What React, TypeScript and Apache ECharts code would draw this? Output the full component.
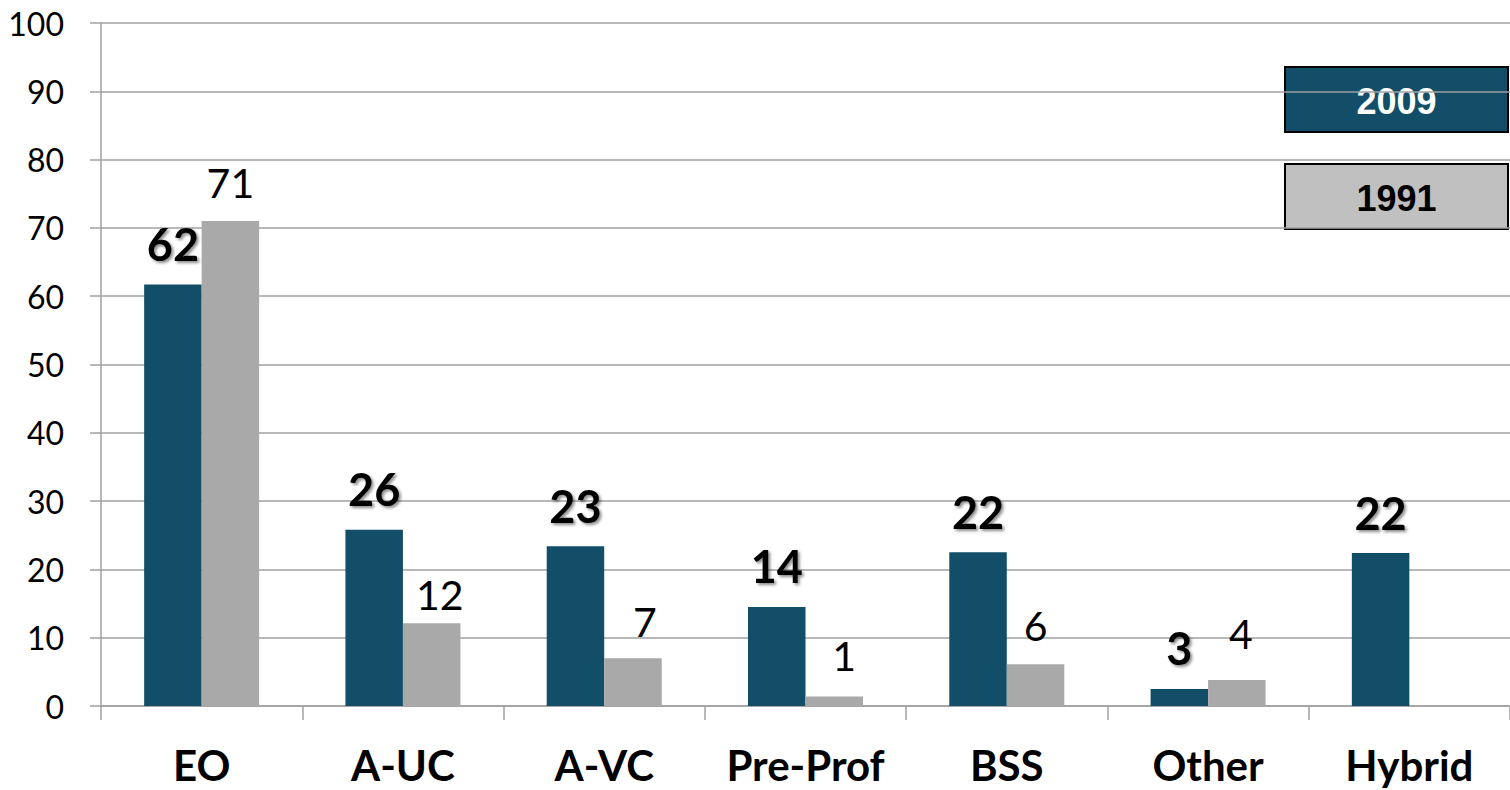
import React, { useEffect, useRef } from "react";
import * as echarts from "echarts";

const categories = ["EO", "A-UC", "A-VC", "Pre-Prof", "BSS", "Other", "Hybrid"];
const values2009 = [61.7, 25.8, 23.4, 14.5, 22.5, 2.5, 22.4];
const labels2009 = ["62", "26", "23", "14", "22", "3", "22"];
const values1991: (number | null)[] = [71.0, 12.1, 7.0, 1.4, 6.1, 3.8, null];
const labels1991 = ["71", "12", "7", "1", "6", "4", ""];
const labelDist1991 = [18, 8, 16, 20, 18, 26, 0];
const labelDx1991 = [0, 8, 12, 10, 0, 4, 0];
const yTicks = { min: 0, max: 100, interval: 10 };
const seriesNames = ["2009", "1991"];

const C2009 = "#124e68";
const C1991 = "#a9a9a9";
const LABEL_FONT = "Lato, 'Open Sans', sans-serif";

export default function App() {
  const ref = useRef<HTMLDivElement>(null);
  useEffect(() => {
    if (!ref.current) return;
    const chart = echarts.init(ref.current, undefined, { renderer: "svg" });
    chart.setOption({
      animation: false,
      backgroundColor: "#ffffff",
      grid: { left: 101, top: 23, bottom: 84, width: 1414, containLabel: false },
      xAxis: {
        type: "category",
        data: categories,
        axisLine: { show: true, lineStyle: { color: "#a0a0a0", width: 1.5 } },
        axisTick: { show: true, interval: 0, length: 14, lineStyle: { color: "#a0a0a0", width: 1.5 } },
        axisLabel: {
          interval: 0,
          hideOverlap: false,
          fontSize: 42,
          fontWeight: "bold",
          color: "#000",
          fontFamily: LABEL_FONT,
          margin: 38,
        },
      },
      yAxis: {
        type: "value",
        min: yTicks.min,
        max: yTicks.max,
        interval: yTicks.interval,
        axisLine: { show: true, lineStyle: { color: "#a0a0a0", width: 1.5 } },
        axisTick: { show: true, length: 11, lineStyle: { color: "#a0a0a0", width: 1.5 } },
        splitLine: { show: true, lineStyle: { color: "#a0a0a0", width: 1.5 } },
        axisLabel: {
          fontSize: 32,
          color: "#000",
          fontFamily: LABEL_FONT,
          margin: 37,
        },
      },
      series: [
        {
          name: seriesNames[0],
          type: "bar",
          barWidth: 57.5,
          barGap: "0%",
          itemStyle: { color: C2009 },
          data: values2009.map((v, i) => ({
            value: v,
            label: { formatter: labels2009[i] },
          })),
          label: {
            show: true,
            position: "top",
            distance: 18,
            fontSize: 45,
            fontWeight: "bold",
            color: "#000",
            fontFamily: LABEL_FONT,
            textShadowColor: "rgba(0,0,0,0.45)",
            textShadowBlur: 3,
            textShadowOffsetX: 2,
            textShadowOffsetY: 2,
          },
        },
        {
          name: seriesNames[1],
          type: "bar",
          barWidth: 57.5,
          barGap: "0%",
          itemStyle: { color: C1991 },
          data: values1991.map((v, i) => ({
            value: v === null ? "-" : v,
            label: {
              formatter: labels1991[i],
              distance: labelDist1991[i],
              offset: [labelDx1991[i], 0],
            },
          })),
          label: {
            show: true,
            position: "top",
            fontSize: 41,
            color: "#000",
            fontFamily: LABEL_FONT,
          },
        },
      ],
      graphic: [
        {
          type: "group",
          left: 1284,
          top: 66,
          children: [
            {
              type: "rect",
              shape: { x: 0, y: 0, width: 223, height: 65 },
              style: { fill: C2009, stroke: "#000", lineWidth: 2 },
            },
            {
              type: "text",
              x: 111.5,
              y: 34,
              style: {
                text: seriesNames[0],
                fill: "#fff",
                font: "bold 36px 'Liberation Sans', Arial, sans-serif",
                textAlign: "center",
                textVerticalAlign: "middle",
              },
            },
          ],
        },
        {
          type: "group",
          left: 1284,
          top: 163,
          children: [
            {
              type: "rect",
              shape: { x: 0, y: 0, width: 223, height: 65 },
              style: { fill: "#c0c0c0", stroke: "#000", lineWidth: 2 },
            },
            {
              type: "text",
              x: 111.5,
              y: 34,
              style: {
                text: seriesNames[1],
                fill: "#000",
                font: "bold 36px 'Liberation Sans', Arial, sans-serif",
                textAlign: "center",
                textVerticalAlign: "middle",
              },
            },
          ],
        },
      ],
    });
    return () => chart.dispose();
  }, []);
  return (
    <div
      ref={ref}
      style={{ position: "fixed", left: 0, top: 0, width: 1510, height: 790 }}
    />
  );
}
